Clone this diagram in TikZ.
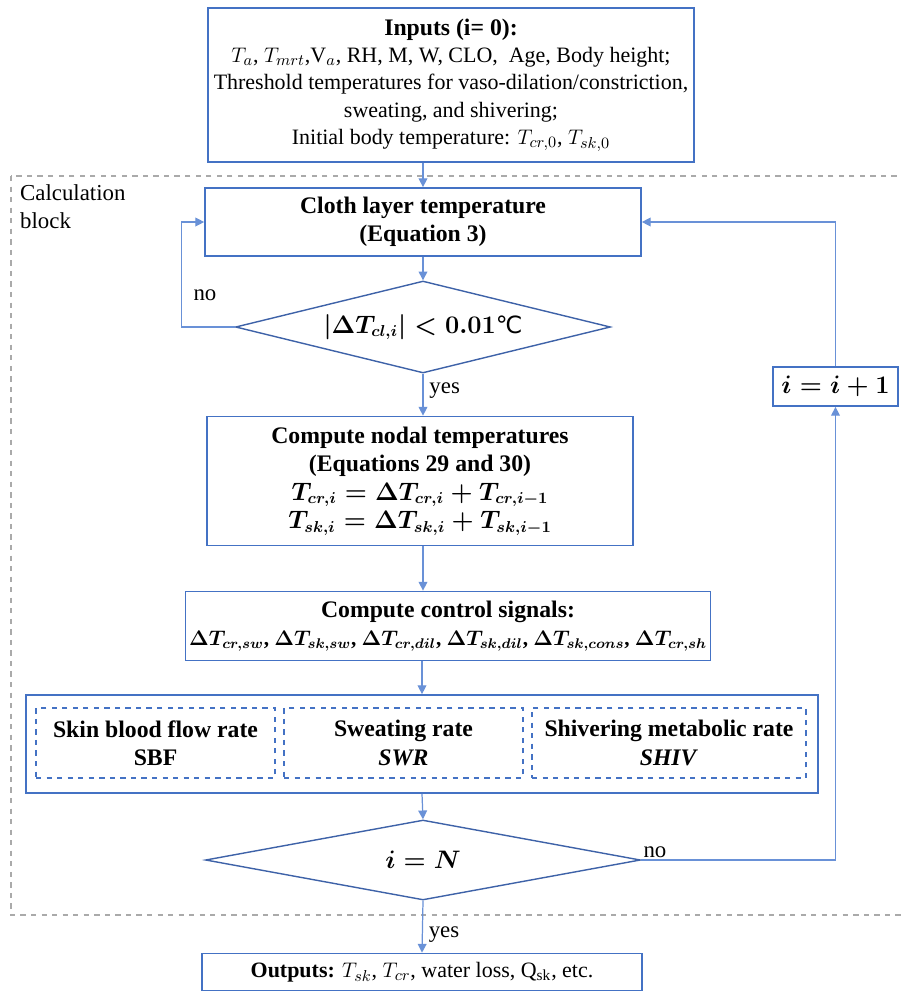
\documentclass[tikz,border=0pt]{standalone}
\usepackage{amsmath,bm}
\usepackage{fontspec}
\setmainfont{Liberation Serif}
\newfontfamily\symfont{DejaVu Sans}
\usetikzlibrary{shapes.geometric,arrows.meta}

\definecolor{boxblue}{RGB}{68,114,196}
\definecolor{linkblue}{RGB}{105,145,215}
\definecolor{diablue}{RGB}{62,98,168}
\definecolor{blockgray}{RGB}{170,170,170}

\newcommand{\regfont}{\fontsize{12.5}{15.6}\selectfont}
\newcommand{\headfont}{\fontsize{13.5}{16.2}\selectfont\bfseries\boldmath}

\begin{document}
\begin{tikzpicture}[x=0.02cm,y=-0.02cm,
    conn/.style={draw=linkblue,line width=0.7pt,-{Triangle[width=5pt,length=5pt]}}]
        \useasboundingbox (0,0) rectangle (901,994);

        \draw[blockgray,dashed,line width=0.6pt] (11,176) rectangle (906,915);
        \node[anchor=north west,align=left,font=\fontsize{13}{16}\selectfont] (calc) at (14,178) {Calculation\\block};

        \begin{scope}[every node/.style={draw=boxblue,line width=1pt,fill=white,align=center,inner sep=2pt}]
          \node[minimum width=9.72cm,minimum height=3.08cm,font=\regfont] (in) at (451,85)
            {{\headfont Inputs (i= 0):}\\
             $T_a$, $T_{mrt}$,V$_a$, RH, M, W, CLO,\ \ Age, Body height;\\
             Threshold temperatures for vaso-dilation/constriction,\\
             sweating, and shivering;\\
             Initial body temperature: $T_{cr,0}$, $T_{sk,0}$};
          \node[minimum width=8.72cm,minimum height=1.36cm,font=\headfont] (cloth) at (423,222)
            {Cloth layer temperature\\(Equation 3)};
          \node[minimum width=8.52cm,minimum height=2.58cm,font=\headfont] (nodal) at (420,481)
            {Compute nodal temperatures\\(Equations 29 and 30)\\
             $T_{cr,i}=\Delta T_{cr,i}+T_{cr,i-1}$\\
             $T_{sk,i}=\Delta T_{sk,i}+T_{sk,i-1}$};
          \node[minimum width=10.34cm,minimum height=1.38cm,font=\headfont] (ctrl) at (448,626)
            {Compute control signals:\\
             {\fontsize{12}{16}\selectfont$\Delta T_{cr,sw}$, $\Delta T_{sk,sw}$, $\Delta T_{cr,dil}$, $\Delta T_{sk,dil}$, $\Delta T_{sk,cons}$, $\Delta T_{cr,sh}$}};
          \node[minimum width=15.84cm,minimum height=1.96cm] (rates) at (422,744) {};
          \node[minimum width=2.5cm,minimum height=0.78cm,font=\headfont] (inc) at (835.5,386.5) {$i=i+1$};
          \node[minimum width=8.8cm,minimum height=0.74cm,font=\regfont] (out) at (422,972)
            {\textbf{Outputs:} $T_{sk}$, $T_{cr}$, water loss, Q$_{\text{sk}}$, etc.};
        \end{scope}

        \begin{scope}[every node/.style={draw=boxblue,dashed,line width=0.8pt,align=center,minimum height=1.4cm,font=\headfont}]
          \node[minimum width=4.78cm] (sbf)  at (155.5,743) {Skin blood flow rate\\SBF};
          \node[minimum width=4.78cm] (swr)  at (403.5,743) {Sweating rate\\\textit{SWR}};
          \node[minimum width=5.48cm] (shiv) at (669,743)   {Shivering metabolic rate\\\textit{SHIV}};
        \end{scope}

        \begin{scope}[every node/.style={diamond,draw=diablue,line width=0.8pt,inner sep=0pt,font=\headfont}]
          \node[shape aspect=4.08,minimum width=7.5cm,minimum height=1.84cm] (check) at (423,327)
            {$\left|\Delta T_{cl,i}\right|<0.01${\symfont\mdseries ℃}};
          \node[shape aspect=5.44,minimum width=8.7cm,minimum height=1.6cm] (last) at (423,860) {$i=N$};
        \end{scope}

        \begin{scope}[every node/.style={font=\fontsize{13}{16}\selectfont},every edge/.style={conn}]
          \path (in.south -| cloth.north) edge (cloth.north);
          \path (cloth.south) edge (check.north);
          \path (check.south) edge node[right,pos=0.4] {yes} (check.south |- nodal.north);
          \path (check.south |- nodal.south) edge (check.south |- ctrl.north);
          \path (ctrl.south -| rates.north) edge (rates.north);
          \path (rates.south) edge (last.north);
          \path (last.south) edge node[right,pos=0.65] {yes} (out.north);
          \draw[conn] (check.west) -- ++(-53,0) |- node[right=3pt,pos=0.15] {no} (cloth.west);
          \draw[conn] (last.east) -| node[above right,pos=0,inner sep=1pt] {no} (inc.south);
          \draw[conn] (inc.north) |- (cloth.east);
        \end{scope}

      \end{tikzpicture}
\end{document}
